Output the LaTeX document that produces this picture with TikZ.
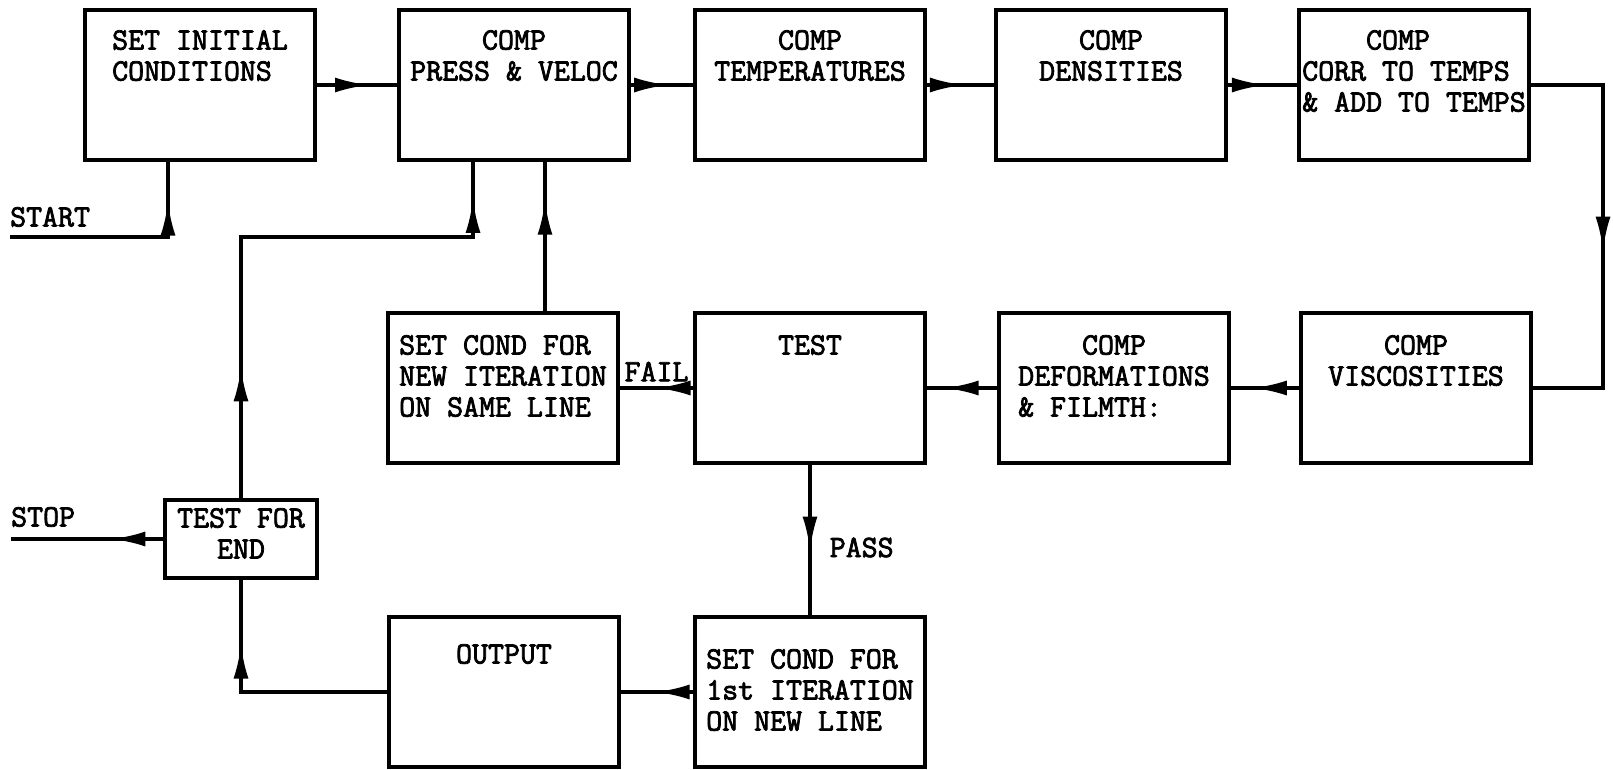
\documentclass[tikz,border=0pt]{standalone}
\usepackage{fontspec}
\setmonofont{Latin Modern Mono}[AutoFakeBold=2.5]
\usepackage{tikz}
\usetikzlibrary{arrows.meta, positioning, calc, decorations.markings}
\newcommand{\labfont}{\fontsize{31}{31}\selectfont\ttfamily\bfseries}

\begin{document}
\begin{tikzpicture}[
  x=1pt, y=-1pt,
  box/.style={rectangle, draw, line width=4pt, minimum width=230pt,
              minimum height=150pt, inner sep=0pt},
  smallbox/.style={box, minimum width=152pt, minimum height=78pt},
  lbl/.style={font=\labfont, inner sep=0pt},
  conn/.style={line width=3.5pt},
  midarr/.style={postaction={decorate, decoration={markings,
      mark=at position #1 with {\arrow{Latex[length=34pt, width=15pt]}}}}},
  midarr/.default=0.6
]
  \useasboundingbox (0,0) rectangle (1613,770);

  % Row 1: boxes along the top
  \node[box] (init)  at (200,85)  {};
  \node[box] (press) at (514,85)  {};
  \node[box] (temp)  at (810,85)  {};
  \node[box] (dens)  at (1111,85) {};
  \node[box] (corr)  at (1414,85) {};
  \node[lbl, align=left,   below=22pt of init.north]  (initT)  {SET INITIAL\\CONDITIONS};
  \node[lbl, align=center, below=22pt of press.north] (pressT) {COMP\\PRESS \& VELOC};
  \node[lbl, align=center, below=22pt of temp.north]  (tempT)  {COMP\\TEMPERATURES};
  \node[lbl, align=center, below=22pt of dens.north]  (densT)  {COMP\\DENSITIES};
  \node[lbl, align=left,   below=22pt of corr.north]  (corrT)  {\phantom{CORR}COMP\\CORR TO TEMPS\\\& ADD TO TEMPS};

  % Row 2: boxes in the middle
  \node[box] (setA)   at (503,388)  {};
  \node[box] (test)   at (810,388)  {};
  \node[box] (deform) at (1114,388) {};
  \node[box] (visc)   at (1416,388) {};
  \node[lbl, align=left,   below=24pt of setA.north]   (setAT)   {SET COND FOR\\NEW ITERATION\\ON SAME LINE};
  \node[lbl, align=center, below=24pt of test.north]   (testT)   {TEST};
  \node[lbl, align=left,   below=24pt of deform.north] (deformT) {\phantom{DEFO}COMP\\DEFORMATIONS\\\& FILMTH:};
  \node[lbl, align=center, below=24pt of visc.north]   (viscT)   {COMP\\VISCOSITIES};

  % Row 3: boxes along the bottom
  \node[smallbox] (testend) at (241,539) {};
  \node[box] (output) at (504,692) {};
  \node[box] (setB)   at (810,692) {};
  \node[lbl, align=center, below=10pt of testend.north] (testendT) {TEST FOR\\END};
  \node[lbl, align=center, below=29pt of output.north]  (outputT)  {OUTPUT};
  \node[lbl, align=left,   below=34pt of setB.north]    (setBT)    {SET COND FOR\\1st ITERATION\\ON NEW LINE};

  % Free ends
  \coordinate (start) at (10,237);
  \coordinate (stop)  at (11,539);
  \node[lbl, anchor=south west] (startT) at ([yshift=10pt]start) {START};
  \node[lbl, anchor=south west] (stopT)  at ([yshift=12pt]stop)  {STOP};

  % Connectors
  \draw[conn, midarr=0.83] (start) -| ([xshift=-32pt]init.south);
  \draw[conn, midarr=0.65] (init.east) -- (press.west);
  \draw[conn, midarr] (press.east) -- (temp.west);
  \draw[conn, midarr=0.55] (temp.east) -- (dens.west);
  \draw[conn, midarr=0.55] (dens.east) -- (corr.west);
  \draw[conn, midarr=0.534] (corr.east) -- ++(72pt,0) |- (visc.east);
  \draw[conn, midarr=0.68] (visc.west) -- (deform.east);
  \draw[conn, midarr=0.75] (deform.west) -- (test.east);
  \draw[conn, midarr=0.5] (test.west) -- node[lbl, above=5pt] (failT) {FAIL} (setA.east);
  \draw[conn, midarr=0.74] ([xshift=42pt]setA.north) -- ([xshift=31pt]press.south);
  \draw[conn, midarr=0.57] (test.south) -- node[lbl, pos=0.55, right=18pt] (passT) {PASS} (setB.north);
  \draw[conn, midarr=0.52] (setB.west) -- (output.east);
  \draw[conn, midarr=0.75] (output.west) -| (testend.south);
  \draw[conn, midarr=0.34] (testend.west) -- (stop);
  \draw[conn, midarr=0.23, midarr=0.935] (testend.north)
    |- ([xshift=-41pt, yshift=-75pt]press.south) -- ([xshift=-41pt]press.south);
\end{tikzpicture}
\end{document}
